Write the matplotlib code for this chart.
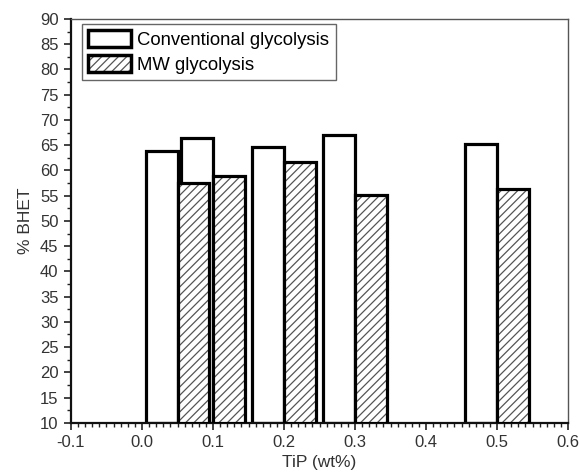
import matplotlib.pyplot as plt
from matplotlib.patches import Patch
from matplotlib.ticker import MultipleLocator

plt.rcParams['font.family'] = ['Liberation Sans', 'DejaVu Sans']
plt.rcParams['hatch.linewidth'] = 0.9

# TiP loading (wt%) and BHET yield for the two glycolysis routes
tip = [0.05, 0.1, 0.2, 0.3, 0.5]
conventional = [63.9, 66.4, 64.7, 67.1, 65.3]
mw = [57.5, 58.9, 61.6, 55.1, 56.3]
bar_w = 0.045

fig = plt.figure(figsize=(5.8, 4.73), dpi=100)
ax = fig.add_axes([0.1224, 0.106, 0.857, 0.854])

ymin = 10
conv_h = [v - ymin for v in conventional]
mw_h = [v - ymin for v in mw]

# conventional bars sit to the left of each x value
ax.bar(tip, conv_h, width=-bar_w, bottom=ymin, align='edge',
       facecolor='white', edgecolor='black', linewidth=2.3, zorder=2)
# MW bars to the right, hatch drawn first then a thick outline on top
ax.bar(tip, mw_h, width=bar_w, bottom=ymin, align='edge',
       facecolor='white', edgecolor='#555555', hatch='////', linewidth=0, zorder=3)
ax.bar(tip, mw_h, width=bar_w, bottom=ymin, align='edge',
       fill=False, edgecolor='black', linewidth=2.3, zorder=4)

ax.set_xlim(-0.1, 0.6)
ax.set_ylim(10, 90)
ax.xaxis.set_major_locator(MultipleLocator(0.1))
ax.xaxis.set_minor_locator(MultipleLocator(0.01))
ax.yaxis.set_major_locator(MultipleLocator(5))
ax.yaxis.set_minor_locator(MultipleLocator(2.5))
ax.set_xticks([-0.1, 0.0, 0.1, 0.2, 0.3, 0.4, 0.5, 0.6])
ax.set_xticklabels(['-0.1', '0.0', '0.1', '0.2', '0.3', '0.4', '0.5', '0.6'])

ax.tick_params(which='major', direction='out', length=5, width=1.2,
               labelsize=12, colors='#222222', labelcolor='#333333', pad=4)
ax.tick_params(which='minor', direction='out', length=3, width=1.0, colors='#222222')
ax.tick_params(top=False, right=False, which='both')

for side in ['left', 'bottom']:
    ax.spines[side].set_linewidth(1.6)
    ax.spines[side].set_color('#111111')
for side in ['top', 'right']:
    ax.spines[side].set_linewidth(1.0)
    ax.spines[side].set_color('#555555')

ax.set_xlabel('TiP (wt%)', fontsize=12.5, color='#333333', labelpad=3)
ax.set_ylabel('% BHET', fontsize=12.5, color='#333333', labelpad=5)

h_conv = Patch(facecolor='white', edgecolor='black', linewidth=2.5)
h_mw_hatch = Patch(facecolor='white', edgecolor='#555555', hatch='////', linewidth=0)
h_mw_edge = Patch(fill=False, edgecolor='black', linewidth=2.5)
leg = ax.legend([h_conv, (h_mw_hatch, h_mw_edge)],
                ['Conventional glycolysis', 'MW glycolysis'],
                loc='upper left', bbox_to_anchor=(0.022, 0.988),
                fontsize=13.3, fancybox=False, framealpha=1,
                edgecolor='#666666', handlelength=2.3, handleheight=1.0,
                handletextpad=0.35, borderpad=0.35, labelspacing=0.35,
                borderaxespad=0)
leg.get_frame().set_linewidth(1.0)

fig.savefig('out.png', dpi=100)
